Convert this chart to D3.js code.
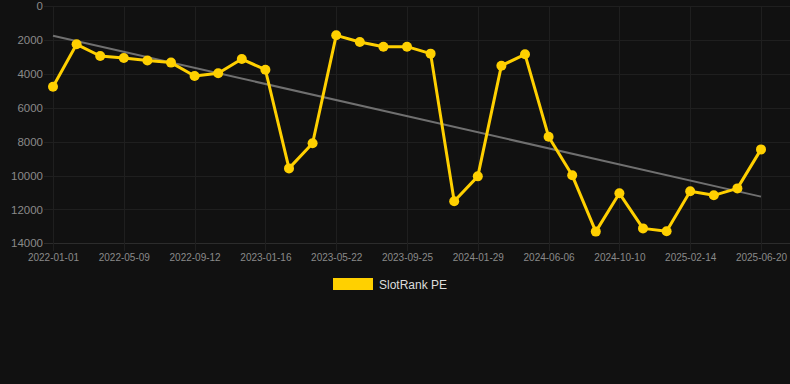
<!DOCTYPE html>
<html>
<head>
<meta charset="utf-8">
<script src="https://cdn.jsdelivr.net/npm/d3@7"></script>
<style>
  html, body { margin: 0; padding: 0; background: #111111; }
  svg { display: block; }
</style>
</head>
<body>
<svg id="chart" width="790" height="384"></svg>
<script>
const dates = [
  "2022-01-01","2022-02-13","2022-03-27","2022-05-09","2022-06-20","2022-08-01",
  "2022-09-12","2022-10-24","2022-12-05","2023-01-16","2023-02-27","2023-04-10",
  "2023-05-22","2023-07-03","2023-08-14","2023-09-25","2023-11-06","2023-12-18",
  "2024-01-29","2024-03-11","2024-04-23","2024-06-06","2024-07-18","2024-08-29",
  "2024-10-10","2024-11-21","2025-01-02","2025-02-14","2025-03-28","2025-05-09",
  "2025-06-20"
];
const values = [
  4760, 2260, 2950, 3070, 3220, 3340,
  4130, 3970, 3130, 3760, 9580, 8100,
  1730, 2120, 2400, 2400, 2810, 11520,
  10050, 3520, 2850, 7710, 9990, 13310,
  11050, 13120, 13290, 10930, 11170, 10760,
  8460
];
const xTickLabels = ["2022-01-01","2022-05-09","2022-09-12","2023-01-16","2023-05-22",
  "2023-09-25","2024-01-29","2024-06-06","2024-10-10","2025-02-14","2025-06-20"];
const yTicks = [0, 2000, 4000, 6000, 8000, 10000, 12000, 14000];
const seriesName = "SlotRank PE";

(function () {
const svg = d3.select("#chart");
const pLeft = 53, pRight = 761, pTop = 6, pBottom = 243.3;

const x = d3.scalePoint().domain(dates).range([pLeft, pRight]);
const y = d3.scaleLinear().domain([0, 14000]).range([pTop, pBottom]);

// horizontal grid
svg.append("g").selectAll("line").data(yTicks).join("line")
  .attr("x1", 44).attr("x2", 790)
  .attr("y1", d => Math.round(y(d)) + 0.5).attr("y2", d => Math.round(y(d)) + 0.5)
  .attr("stroke", d => d === 14000 ? "#2c2c2c" : "#1f1f1f").attr("stroke-width", 1);

// vertical grid
svg.append("g").selectAll("line").data(xTickLabels).join("line")
  .attr("x1", d => Math.round(x(d)) + 0.5).attr("x2", d => Math.round(x(d)) + 0.5)
  .attr("y1", pTop).attr("y2", 251)
  .attr("stroke", "#1f1f1f").attr("stroke-width", 1);

// y axis labels
const yAxis = d3.axisLeft(y).tickValues(yTicks).tickSize(0).tickPadding(0).tickFormat(d3.format("d"));
const gy = svg.append("g").attr("transform", "translate(43,0)").call(yAxis);
gy.select(".domain").remove();
gy.selectAll("text").attr("fill", "#8a8a8a").style("font-family", "Arial, 'Liberation Sans', sans-serif").style("font-size", "11.5px");

// x axis labels
const xAxis = d3.axisBottom(x).tickValues(xTickLabels).tickSize(0).tickPadding(0);
const gx = svg.append("g").attr("transform", "translate(0,254)").call(xAxis);
gx.select(".domain").remove();
gx.selectAll("text").attr("fill", "#8a8a8a").attr("dy", "0.71em").style("font-family", "Arial, 'Liberation Sans', sans-serif").style("font-size", "10px");

// trend line (least squares)
const n = values.length;
const idx = d3.range(n);
const mi = d3.mean(idx), mv = d3.mean(values);
const slope = d3.sum(idx, i => (i - mi) * (values[i] - mv)) / d3.sum(idx, i => (i - mi) ** 2);
const intercept = mv - slope * mi;
svg.append("line")
  .attr("x1", x(dates[0])).attr("y1", y(intercept))
  .attr("x2", x(dates[n - 1])).attr("y2", y(intercept + slope * (n - 1)))
  .attr("stroke", "#707070").attr("stroke-width", 2);

// series line
const line = d3.line().x((d, i) => x(dates[i])).y(d => y(d));
svg.append("path").datum(values)
  .attr("d", line).attr("fill", "none")
  .attr("stroke", "#FFD000").attr("stroke-width", 3).attr("stroke-linejoin", "round");

svg.append("g").selectAll("circle").data(values).join("circle")
  .attr("cx", (d, i) => x(dates[i])).attr("cy", d => y(d)).attr("r", 5)
  .attr("fill", "#FFD000");

// legend
const lg = svg.append("g");
lg.append("rect").attr("x", 333).attr("y", 278).attr("width", 40).attr("height", 12).attr("fill", "#FFD000");
lg.append("text").attr("x", 379).attr("y", 288.5).text(seriesName)
  .attr("fill", "#dddddd").style("font-family", "Arial, 'Liberation Sans', sans-serif").style("font-size", "12px");
})();
</script>
</body>
</html>
